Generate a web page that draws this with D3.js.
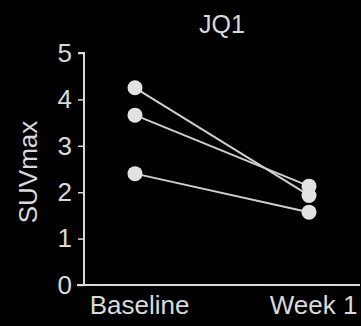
<!DOCTYPE html>
<html>
<head>
<meta charset="utf-8">
<script src="https://cdn.jsdelivr.net/npm/d3@7"></script>
<style>
html,body{margin:0;padding:0;background:#000;}
svg{display:block;}
text{font-family:"Liberation Sans",Arial,sans-serif;}
</style>
</head>
<body>
<svg id="chart" width="361" height="326"></svg>
<script>
const categories = ["Baseline", "Week 1"];
const baselineValues = [4.25, 3.66, 2.40];
const week1Values = [1.93, 2.13, 1.57];
const yTicks = [0, 1, 2, 3, 4, 5];
const title = "JQ1";
const yLabel = "SUVmax";

const svg = d3.select("#chart");
const W = 361, H = 326;
svg.append("rect").attr("width", W).attr("height", H).attr("fill", "#000");

const x = d3.scalePoint().domain(categories).range([84, 360]).padding(0.293);
const y = d3.scaleLinear().domain([0, 5]).range([285, 53]);

const fg = "#d9d9d9";

// y axis
const yAxis = svg.append("g").attr("transform", "translate(84,0)")
  .call(d3.axisLeft(y).tickValues(yTicks).tickSize(6).tickPadding(6).tickFormat(d3.format("d")));
yAxis.select(".domain").attr("stroke", fg).attr("stroke-width", 2).attr("d", "M-6,53H0V285");
yAxis.selectAll(".tick line").attr("stroke", fg).attr("stroke-width", 1.5);
yAxis.selectAll(".tick text").attr("fill", fg).attr("font-size", 26)
  .attr("font-family", "'Liberation Sans', Arial, sans-serif");

// x axis
const xAxis = svg.append("g").attr("transform", "translate(0,285)")
  .call(d3.axisBottom(x).tickSize(0).tickPadding(11));
xAxis.select(".domain").attr("stroke", fg).attr("stroke-width", 2).attr("d", "M77,0H360");
xAxis.selectAll(".tick text").attr("fill", fg).attr("font-size", 26)
  .attr("font-family", "'Liberation Sans', Arial, sans-serif");
xAxis.selectAll(".tick").filter((d, i) => i === 0).select("text").attr("dx", 4);
xAxis.selectAll(".tick").filter((d, i) => i === 1).select("text").attr("dx", 4);

// lines
const pairs = baselineValues.map((b, i) => [b, week1Values[i]]);
svg.append("g").selectAll("line").data(pairs).join("line")
  .attr("x1", x(categories[0])).attr("x2", x(categories[1]))
  .attr("y1", d => y(d[0])).attr("y2", d => y(d[1]))
  .attr("stroke", "#cfcfcf").attr("stroke-width", 2);

// points
const pts = [];
baselineValues.forEach(v => pts.push({c: categories[0], v}));
week1Values.forEach(v => pts.push({c: categories[1], v}));
svg.append("g").selectAll("circle").data(pts).join("circle")
  .attr("cx", d => x(d.c)).attr("cy", d => y(d.v)).attr("r", 7.5)
  .attr("fill", "#e2e2e2");

// title
svg.append("text").attr("x", 222).attr("y", 33).attr("text-anchor", "middle")
  .attr("fill", fg).attr("font-size", 25).text(title);

// y label
svg.append("text").attr("transform", "translate(37,172) rotate(-90)")
  .attr("text-anchor", "middle").attr("fill", fg).attr("font-size", 26).text(yLabel);
</script>
</body>
</html>
